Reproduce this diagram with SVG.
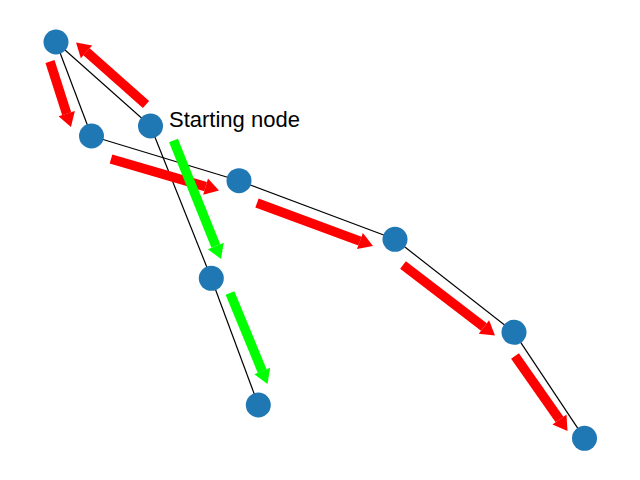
<svg xmlns="http://www.w3.org/2000/svg" width="640" height="480" viewBox="0 0 640 480">
<style>
.edge{stroke:#000;stroke-width:1.2;fill:none}
.node{fill:#1f77b4}
.red{stroke:#ff0000;stroke-width:9.5;fill:none;stroke-linecap:butt}
.green{stroke:#00ff00;stroke-width:9.5;fill:none;stroke-linecap:butt}
.label{font-family:"Liberation Sans",Arial,sans-serif;font-size:22px;fill:#000}
</style>
<defs>
<marker id="hr" markerUnits="strokeWidth" markerWidth="1.47" markerHeight="1.8" viewBox="0 -0.9 1.47 1.8" refX="0" refY="0" orient="auto" overflow="visible">
<path d="M0,-0.9 L1.47,0 L0,0.9 z" fill="#ff0000"/>
</marker>
<marker id="hg" markerUnits="strokeWidth" markerWidth="1.47" markerHeight="1.8" viewBox="0 -0.9 1.47 1.8" refX="0" refY="0" orient="auto" overflow="visible">
<path d="M0,-0.9 L1.47,0 L0,0.9 z" fill="#00ff00"/>
</marker>
</defs>
<rect width="640" height="480" fill="#fff"/>
<g id="edges">
<line class="edge" x1="56" y1="42" x2="91.5" y2="136"/>
<line class="edge" x1="56" y1="42" x2="150.5" y2="126"/>
<line class="edge" x1="91.5" y1="136" x2="239" y2="180.7"/>
<line class="edge" x1="150.5" y1="126" x2="211.3" y2="278.3"/>
<line class="edge" x1="211.3" y1="278.3" x2="258.3" y2="405"/>
<line class="edge" x1="239" y1="180.7" x2="395" y2="239.3"/>
<line class="edge" x1="395" y1="239.3" x2="514" y2="332.3"/>
<line class="edge" x1="514" y1="332.3" x2="584.5" y2="438.3"/>
</g>
<g id="arrows">
<line class="red" x1="146" y1="104.5" x2="86.5" y2="51.8" marker-end="url(#hr)"/>
<line class="red" x1="50" y1="61.5" x2="66.7" y2="113.7" marker-end="url(#hr)"/>
<line class="red" x1="111" y1="159" x2="205.6" y2="186.6" marker-end="url(#hr)"/>
<line class="red" x1="257" y1="203" x2="359.9" y2="241.1" marker-end="url(#hr)"/>
<line class="red" x1="403" y1="265" x2="483.9" y2="327" marker-end="url(#hr)"/>
<line class="red" x1="515" y1="356" x2="559.5" y2="419.5" marker-end="url(#hr)"/>
<line class="green" x1="173.5" y1="140.5" x2="215.8" y2="246" marker-end="url(#hg)"/>
<line class="green" x1="230" y1="293" x2="262.2" y2="371.1" marker-end="url(#hg)"/>
</g>
<g id="node-A"><circle class="node" cx="56" cy="42" r="12.5"/></g>
<g id="node-B"><circle class="node" cx="91.5" cy="136" r="12.5"/></g>
<g id="node-C"><circle class="node" cx="150.5" cy="126" r="12.5"/><text class="label" x="169" y="127">Starting node</text></g>
<g id="node-D"><circle class="node" cx="239" cy="180.7" r="12.5"/></g>
<g id="node-E"><circle class="node" cx="395" cy="239.3" r="12.5"/></g>
<g id="node-F"><circle class="node" cx="514" cy="332.3" r="12.5"/></g>
<g id="node-G"><circle class="node" cx="584.5" cy="438.3" r="12.5"/></g>
<g id="node-H"><circle class="node" cx="211.3" cy="278.3" r="12.5"/></g>
<g id="node-I"><circle class="node" cx="258.3" cy="405" r="12.5"/></g>
</svg>
